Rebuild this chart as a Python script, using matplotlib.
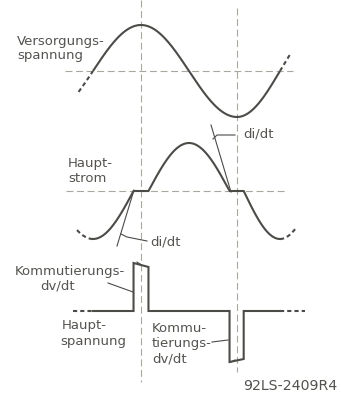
import numpy as np
import matplotlib
matplotlib.use("Agg")
import matplotlib.pyplot as plt

# ---------------- data ----------------
# phase angle (deg) -> horizontal position knots of the hand-drawn time axis
phase_knots = [-180, 0, 90, 180, 270, 360, 540]
pos_knots = [-3, 93, 141, 189, 237, 280, 366]

# supply voltage (Versorgungsspannung)
v_amp = 46
v_solid = [0, 360]
v_dash_left = [-27, 0]
v_dash_right = [360, 381]

# main current (Hauptstrom): cosine lobes separated by zero-current gaps
i_amp = 48
i_lobe_centers = [0, 180, 360]
i_lobe_signs = [-1, 1, -1]
i_lobe_half = 76
i_solid = [0, 360]
i_dash_left = [-30, 0]
i_dash_right = [360, 395]

# main voltage (Hauptspannung): commutation pulses during current gaps
u_pulse_t = [[76, 104], [256, 284]]
u_pulse_levels = [[48, 44], [-51, -48]]
u_solid = [0, 360]
u_dash_left = [-37, 0]
u_dash_right = [360, 412]

guide_phases = [90, 270]

# ---------------- styles / layout ----------------
W, H = 341, 396
baselines = [71, 191, 311]
CURVE = "#4d4b48"
GUIDE = "#a9a7a0"
TEXT = "#55534f"
plt.rcParams["lines.scale_dashes"] = False
plt.rcParams["font.family"] = ["DejaVu Sans"]

fig = plt.figure(figsize=(W / 100, H / 100), dpi=100)
fig.patch.set_facecolor("white")
ax = fig.add_axes([0, 0, 1, 1])
ax.set_axis_off()

fwd = lambda t: np.interp(t, phase_knots, pos_knots)
inv = lambda p: np.interp(p, pos_knots, phase_knots)
ax.set_xscale("function", functions=(fwd, inv))
ax.set_xlim(float(inv(0)), float(inv(W)))
ax.set_ylim(H, 0)

# overlay in pixel coordinates for labels/leaders
ov = fig.add_axes([0, 0, 1, 1])
ov.set_axis_off()
ov.set_xlim(0, W)
ov.set_ylim(H, 0)
ov.patch.set_alpha(0)

lw_c = 1.5
dash_sig = (0, (3.0, 2.2))
dash_guide = (0, (5.0, 2.6))

# guide lines
ax.vlines(guide_phases[0], 0, 382, colors=GUIDE, lw=0.8, linestyles=[dash_guide])
ax.vlines(guide_phases[1], 8, 372, colors=GUIDE, lw=0.8, linestyles=[dash_guide])
ax.hlines(baselines[0], float(inv(65)), float(inv(293)), colors=GUIDE, lw=0.8, linestyles=[dash_guide])
ax.hlines(baselines[1], float(inv(66)), float(inv(287)), colors=GUIDE, lw=0.8, linestyles=[dash_guide])

# supply voltage
def volt(t):
    return baselines[0] - v_amp * np.sin(np.radians(t))

for rng, ls in [(v_solid, "-"), (v_dash_left, dash_sig), (v_dash_right, dash_sig)]:
    t = np.linspace(rng[0], rng[1], 400)
    ax.plot(t, volt(t), color=CURVE, lw=lw_c, ls=ls, solid_capstyle="butt")

# main current
def current(t):
    val = np.zeros_like(t)
    for c, s in zip(i_lobe_centers, i_lobe_signs):
        m = np.abs(t - c) <= i_lobe_half
        val[m] = s * i_amp * np.cos(np.radians((t[m] - c) / i_lobe_half * 90))
    return baselines[1] - val

for rng, ls in [(i_solid, "-"), (i_dash_left, dash_sig), (i_dash_right, dash_sig)]:
    t = np.linspace(rng[0], rng[1], 1441)
    ax.plot(t, current(t), color=CURVE, lw=lw_c, ls=ls, solid_joinstyle="miter")

# main voltage with commutation pulses
ut = [u_solid[0]]
uy = [0]
for (a, b), (la, lb) in zip(u_pulse_t, u_pulse_levels):
    ut += [a, a, b, b]
    uy += [0, la, lb, 0]
ut.append(u_solid[1])
uy.append(0)
ax.plot(ut, baselines[2] - np.array(uy), color=CURVE, lw=lw_c, solid_joinstyle="miter")
for rng in [u_dash_left, u_dash_right]:
    ax.plot(rng, [baselines[2]] * 2, color=CURVE, lw=lw_c, ls=dash_sig)

# ---------------- annotations ----------------
fs = 9.5
def label(x, y, s, size=fs):
    ov.text(x, y, s, fontsize=size, color=TEXT, ha="left", va="center")

label(17, 41, "Versorgungs-")
label(17, 56, "spannung")
label(68, 163, "Haupt-")
label(68, 178, "strom")
label(243, 134, "di/dt")
label(150, 242, "di/dt")
label(15, 271, "Kommutierungs-")
label(40, 286, "dv/dt")
label(62, 325, "Haupt-")
label(60, 341, "spannung")
label(152, 328, "Kommu-")
label(152, 344, "tierungs-")
label(152, 359, "dv/dt")
label(243, 386, "92LS-2409R4", 10.2)

lk = dict(color=CURVE, lw=0.8)
# tangent lines (di/dt)
ov.plot([211, 231], [125, 192], **lk)
ov.plot([117, 134], [246, 190], **lk)
# leaders
ov.plot([213, 217, 235], [139, 135, 135], **lk)
ov.plot([121, 127, 147], [234, 237, 241], **lk)
ov.plot([108, 133], [283, 292], **lk)
ov.plot([212, 228], [342, 340], **lk)
# small arrow ticks at pulse corners
ov.plot([137, 140], [262, 264], **lk)
ov.plot([231, 235], [362, 360], **lk)

fig.savefig("out.png", dpi=100, facecolor="white")
